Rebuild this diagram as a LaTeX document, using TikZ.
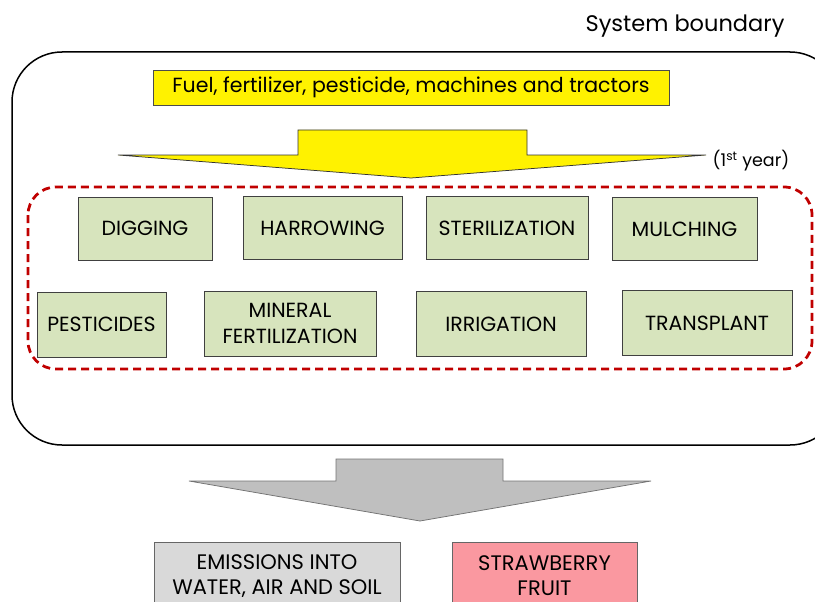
\documentclass[tikz,border=0pt]{standalone}
\usepackage{fontspec}
\setmainfont{Poppins}
\definecolor{taskgreen}{HTML}{D7E4BD}
\definecolor{bndred}{HTML}{C00000}
\definecolor{outgray}{HTML}{D9D9D9}
\definecolor{fruitpink}{HTML}{FA98A0}
\definecolor{arrgray}{HTML}{BFBFBF}
\begin{document}
\begin{tikzpicture}[x=1pt,y=-1pt,task/.style={shape=rectangle,draw=black!75,line width=0.75pt,fill=taskgreen,inner sep=0pt,font=\fontsize{20.5}{26}\selectfont,align=center},input/.style={shape=rectangle,draw=black!70,line width=0.75pt,fill=yellow,inner sep=0pt,font=\fontsize{20.5}{22}\selectfont},output/.style={task,draw=black!60,font=\fontsize{21}{25}\selectfont},blockarrow/.style={draw=black!80,line width=0.75pt,line join=miter}]
\useasboundingbox (0,0) rectangle (815,602);
\clip (0,0) rectangle (815,602);
\def\ha{63};
\def\hb{65};

\node[font=\fontsize{22.5}{24}\selectfont] (bnd) at (685,26) {System boundary};
\draw[line width=1.5pt,rounded corners=50pt] (12,52) rectangle (840,445);

\node[input,minimum width=516,minimum height=35] (inp) at (411,87.5) {\raisebox{-2pt}{Fuel, fertilizer, pesticide, machines and tractors}};
\draw[blockarrow,fill=yellow] (298,130) -- (527,130) -- (527,155) -- (706,155) -- (411,178) -- (118,155) -- (298,155) -- cycle;
\node[font=\fontsize{17.5}{18}\selectfont] (yr) at (751,161) {(1\textsuperscript{st} year)};

\draw[bndred,line width=2.75pt,dash pattern=on 8pt off 5pt,rounded corners=28pt] (28,187) rectangle (812,369);

\node[task,minimum width=134,minimum height=\ha] (dig) at (145,228.5) {DIGGING};
\node[task,minimum width=159,minimum height=\ha] (har) at (322.5,228) {HARROWING};
\node[task,minimum width=162,minimum height=\ha] (ster) at (507,228) {STERILIZATION};
\node[task,minimum width=145,minimum height=\ha] (mulch) at (684.5,229) {MULCHING};

\node[task,minimum width=129,minimum height=\hb] (pest) at (101.5,324.5) {PESTICIDES};
\node[task,minimum width=172,minimum height=\hb] (fert) at (290,323.5) {MINERAL\\FERTILIZATION};
\node[task,minimum width=170,minimum height=\hb] (irr) at (501,324) {IRRIGATION};
\node[task,minimum width=170,minimum height=\hb] (trans) at (707,323) {TRANSPLANT};

\draw[blockarrow,draw=black!55,fill=arrgray] (336,459) -- (503,459) -- (503,481) -- (651,481) -- (420,521) -- (189,481) -- (336,481) -- cycle;

\node[output,fill=outgray,minimum width=246,minimum height=67] (emis) at (277,576) {EMISSIONS INTO\\WATER, AIR AND SOIL};
\node[output,fill=fruitpink,minimum width=185,minimum height=67] (fruit) at (544.5,576) {STRAWBERRY\\FRUIT};
\end{tikzpicture}
\end{document}
